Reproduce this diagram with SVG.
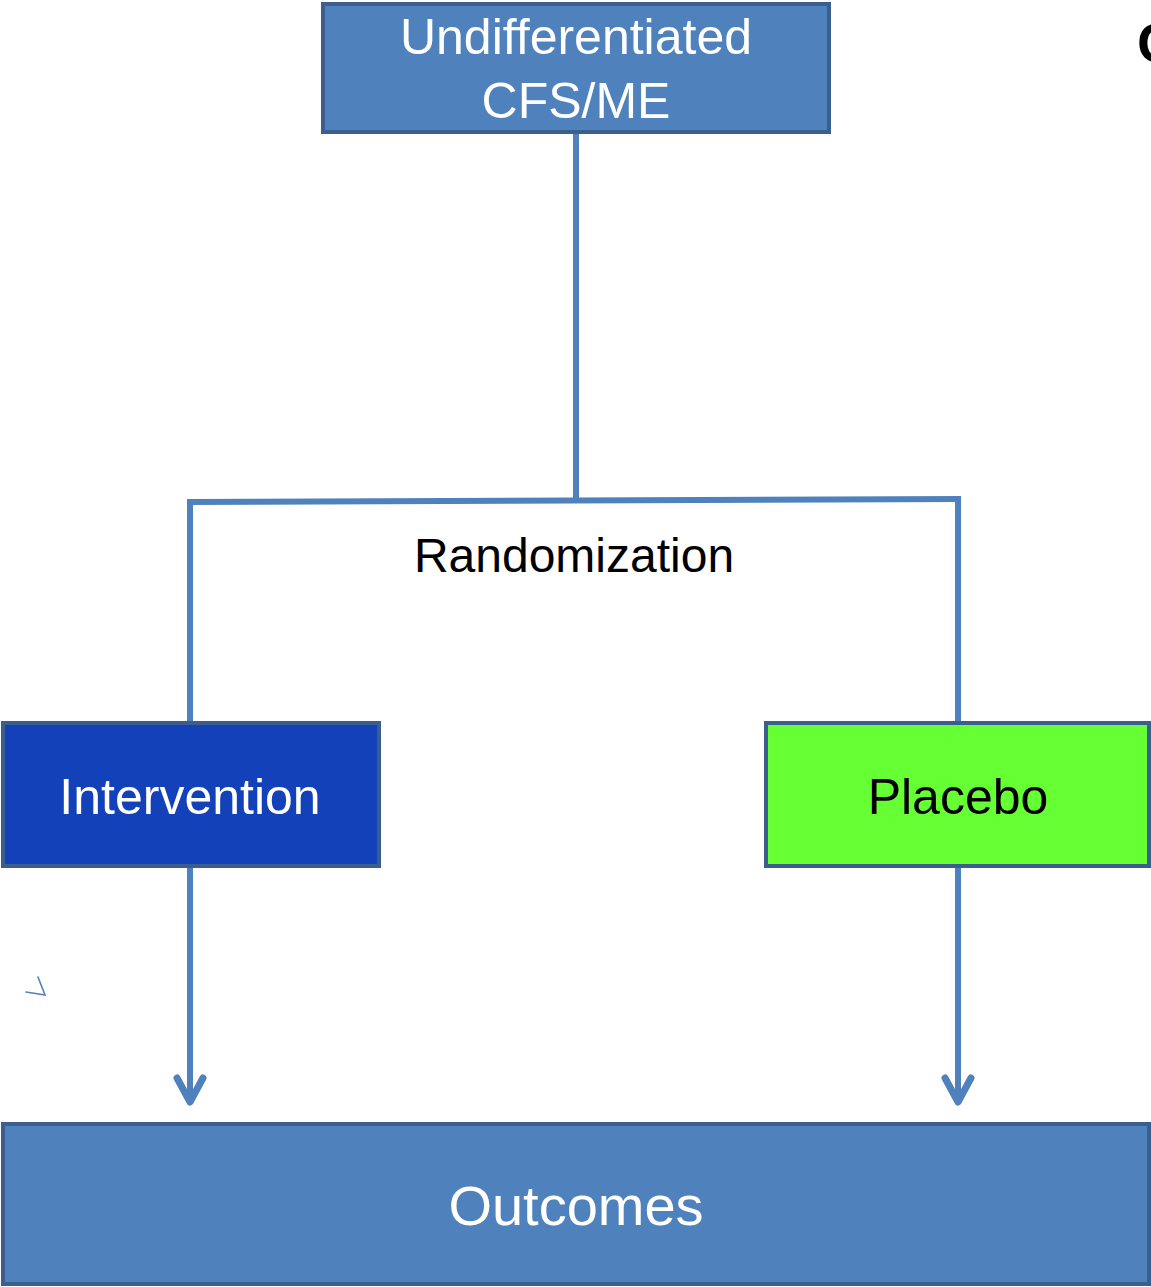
<svg xmlns="http://www.w3.org/2000/svg" width="1151" height="1287" viewBox="0 0 1151 1287">
<style>
.box{stroke:#3A5F8F;stroke-width:4}
.t{font-family:"Liberation Sans",Arial,sans-serif;text-anchor:middle}
.w{fill:#FFFFFF}
.k{fill:#000000}
.c{fill:none;stroke:#4F81BD;stroke-width:6}
.ah{fill:none;stroke:#4F81BD;stroke-width:7;stroke-linecap:round;stroke-linejoin:round}
</style>
<rect width="1151" height="1287" fill="#FFFFFF"/>
<g id="connectors">
<line class="c" x1="576" y1="132" x2="576" y2="500"/>
<line class="c" x1="187" y1="502" x2="961" y2="499"/>
<line class="c" x1="190" y1="499" x2="190" y2="722"/>
<line class="c" x1="958" y1="499" x2="958" y2="722"/>
<line class="c" x1="190" y1="866" x2="190" y2="1100"/>
<polyline class="ah" points="177,1078 190,1102 203,1078"/>
<line class="c" x1="958" y1="866" x2="958" y2="1100"/>
<polyline class="ah" points="945,1078 958,1102 971,1078"/>
<polyline fill="none" stroke="#4F81BD" stroke-width="1.6" stroke-linecap="round" points="26,992 45,995 38,977"/>
</g>
<g id="node-top">
<rect class="box" x="323" y="4" width="506" height="128" fill="#4F81BD"/>
<text class="t w" x="576" y="54" font-size="50">Undifferentiated</text>
<text class="t w" x="576" y="118" font-size="50">CFS/ME</text>
</g>
<g id="label-randomization">
<text class="t k" x="574" y="572" font-size="48">Randomization</text>
</g>
<g id="node-intervention">
<rect class="box" x="3" y="723" width="376" height="143" fill="#1241BA"/>
<text class="t w" x="190" y="814" font-size="50">Intervention</text>
</g>
<g id="node-placebo">
<rect class="box" x="766" y="723" width="383" height="143" fill="#66FF33"/>
<text class="t k" x="958" y="814" font-size="50">Placebo</text>
</g>
<g id="node-outcomes">
<rect class="box" x="3" y="1124" width="1146" height="160" fill="#4F81BD"/>
<text class="t w" x="576" y="1225" font-size="56">Outcomes</text>
</g>
<text x="1137" y="62" font-family="Liberation Sans,Arial,sans-serif" font-weight="bold" font-size="56" fill="#000000">C</text>
</svg>
